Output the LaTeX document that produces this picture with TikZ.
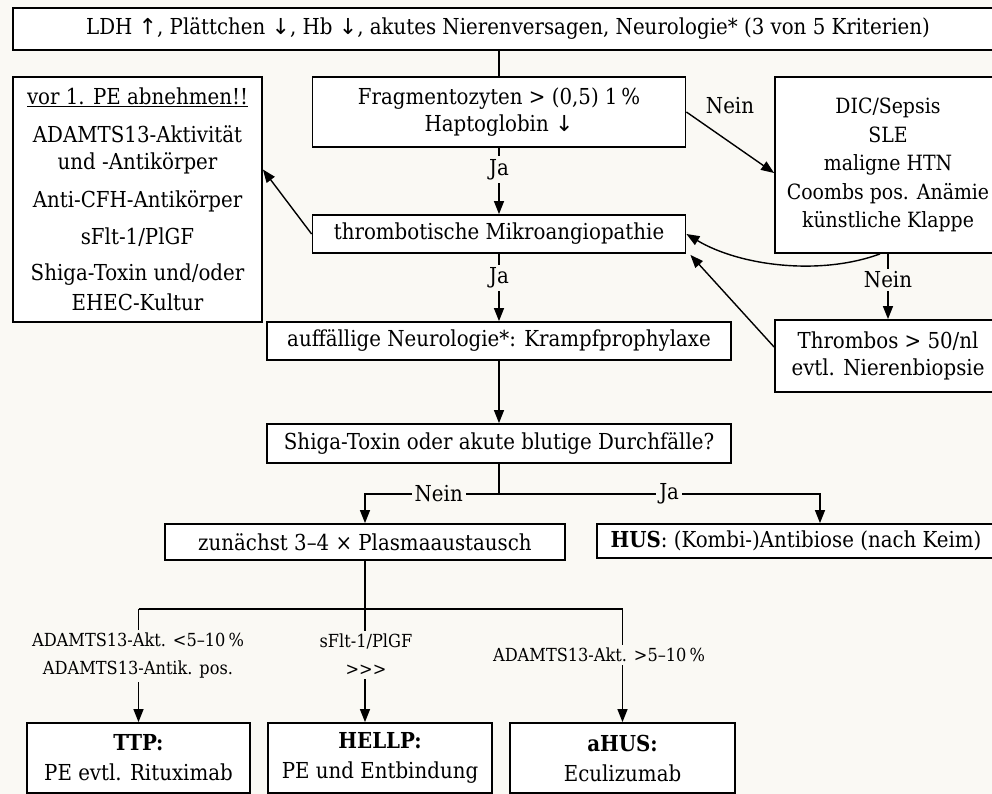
\documentclass[tikz,border=0pt]{standalone}
\usepackage{fontspec}
\setmainfont{DejaVu Serif Condensed}
\newfontfamily\arrowfont{DejaVu Sans}
\usetikzlibrary{arrows.meta,calc}
\definecolor{paper}{HTML}{FAF9F4}
\newcommand{\arrup}{{\arrowfont ↑}}
\newcommand{\arrdn}{{\arrowfont ↓}}
\tikzset{
  box/.style={draw, line width=1.8pt, fill=white, inner sep=0pt, align=center},
  ln/.style={line width=1.4pt},
  arr/.style={ln, -{Triangle[length=13pt,width=10pt]}},
  lab/.style={fill=paper, inner sep=3pt, align=center},
  small/.style={font=\fontsize{18}{28}\selectfont},
}
\begin{document}
\begin{tikzpicture}[x=1pt,y=-1pt,font=\fontsize{22}{27}\selectfont]
\fill[paper] (0,0) rectangle (992,794);
\useasboundingbox (0,0) rectangle (992,794);

% boxes
\node[box, minimum width=990pt, minimum height=42pt] (top) at (508,29)
  {LDH \arrup, Plättchen \arrdn, Hb \arrdn, akutes Nierenversagen, Neurologie* (3 von 5 Kriterien)};
\node[box, minimum width=249pt, minimum height=245pt] (pre) at (137.5,199.5)
  {\underline{vor 1. PE abnehmen!!}\\[11pt]
   ADAMTS13-Aktivität\\ und -Antikörper\\[11pt]
   Anti-CFH-Antikörper\\[10pt]
   sFlt-1/PlGF\\[9pt]
   Shiga-Toxin und/oder\\[3pt] EHEC-Kultur};
\node[box, minimum width=373pt, minimum height=70pt] (frag) at (499,112)
  {Fragmentozyten > (0,5) 1\,\%\\ Haptoglobin \arrdn};
\node[box, minimum width=373pt, minimum height=38pt] (tma) at (499,234)
  {thrombotische Mikroangiopathie};
\node[box, minimum width=464pt, minimum height=38pt] (neuro) at (499,341)
  {auffällige Neurologie*: Krampfprophylaxe};
\node[box, minimum width=464pt, minimum height=39pt] (shiga) at (499,443.5)
  {Shiga-Toxin oder akute blutige Durchfälle?};
\node[box, minimum width=400pt, minimum height=36pt] (pex) at (365,542)
  {zunächst 3–4 × Plasmaaustausch};
\node[box, minimum width=398pt, minimum height=34pt] (hus) at (796,541)
  {\textbf{HUS}: (Kombi-)Antibiose (nach Keim)};
\node[box, minimum width=226pt, minimum height=176pt, font=\fontsize{21}{28.5}\selectfont] (dd) at (888,165)
  {DIC/Sepsis\\ SLE\\ maligne HTN\\ Coombs pos. Anämie\\ künstliche Klappe};
\node[box, minimum width=226pt, minimum height=72pt] (thr) at (888,356)
  {Thrombos > 50/nl\\ evtl. Nierenbiopsie};
\node[box, minimum width=223pt, minimum height=70pt, font=\fontsize{22}{30}\selectfont] (ttp) at (138.5,758)
  {\textbf{TTP:}\\ PE evtl. Rituximab};
\node[box, minimum width=224pt, minimum height=70pt, font=\fontsize{22}{30}\selectfont] (hellp) at (380,758)
  {\textbf{HELLP:}\\ PE und Entbindung};
\node[box, minimum width=225pt, minimum height=70pt, font=\fontsize{22}{30}\selectfont] (ahus) at (622.5,758)
  {\textbf{aHUS:}\\ Eculizumab};

% main column
\draw[ln] (frag.north |- top.south) -- (frag.north);
\draw[arr] (frag.south) -- node[lab, pos=0.33] {Ja} (tma.north);
\draw[arr] (tma.south) -- node[lab, pos=0.36] {Ja} (neuro.north);
\draw[arr] (neuro.south) -- (shiga.north);

% side branches
\draw[arr] (frag.east) -- ($(dd.west)+(0,8)$);
\node (nein1) at (730,106) {Nein};
\draw[arr] (dd.south) -- node[lab, pos=0.4] {Nein} (thr.north);
\draw[arr] ($(dd.south)+(-8,0)$) .. controls (820,276) and (740,266) .. (tma.east);
\draw[arr] ($(thr.west)+(0,-9)$) -- ($(tma.south east)+(4,1)$);
\draw[arr] (tma.west) -- ($(pre.east)+(0,-30)$);

% Shiga fork
\coordinate (fork) at (499,494);
\coordinate (husin) at ($(hus.north)+(24,0)$);
\draw[ln] (shiga.south) -- (fork);
\draw[arr] (fork) -- node[lab, pos=0.45] {Nein} (fork -| pex.north) -- (pex.north);
\draw[arr] (fork) -- node[lab, pos=0.53] {Ja} (fork -| husin) -- (husin);

% therapy split
\coordinate (split) at ($(pex.south)+(0,48)$);
\draw[ln] (pex.south) -- (split);
\draw[ln] (ttp.north |- split) -- (ahus.north |- split);
\draw[arr] (ttp.north |- split) -- (ttp.north);
\draw[arr] (split) -- (split |- hellp.north);
\draw[arr] (ahus.north |- split) -- (ahus.north);
\node[lab, small] (c1) at (138,656) {ADAMTS13-Akt. <5–10\,\%\\ ADAMTS13-Antik. pos.};
\node[lab, small] (c2) at (366,655) {sFlt-1/PlGF\\ >{}>{}>};
\node[lab, small] (c3) at (599,655) {ADAMTS13-Akt. >5–10\,\%};
\end{tikzpicture}
\end{document}
